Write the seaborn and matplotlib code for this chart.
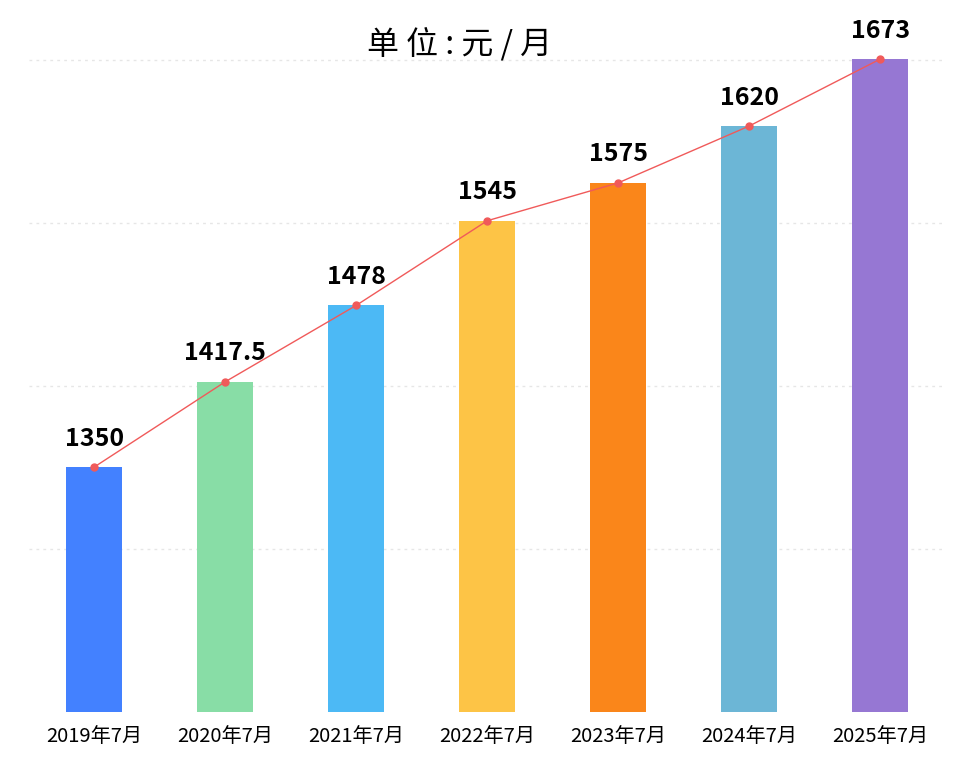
import matplotlib.pyplot as plt
import seaborn as sns
import pandas as pd

months = ["2019年7月", "2020年7月", "2021年7月", "2022年7月", "2023年7月", "2024年7月", "2025年7月"]
values = [1350, 1417.5, 1478, 1545, 1575, 1620, 1673]
labels = ["1350", "1417.5", "1478", "1545", "1575", "1620", "1673"]
colors = ["#4381FF", "#88DDA6", "#4CB9F5", "#FDC446", "#FA861A", "#6CB6D6", "#9677D3"]

plt.rcParams["font.family"] = "Noto Sans CJK SC"
df = pd.DataFrame({"month": months, "value": values})

fig = plt.figure(figsize=(9.6, 7.83), dpi=100)
ax = fig.add_axes([0.03, 0.0907, 0.955, 0.8838])
sns.barplot(data=df, x="month", y="value", hue="month", palette=colors,
            width=0.43, saturation=1, legend=False, ax=ax)
ax.plot(range(len(values)), values, color="#F05A5A", lw=1, marker="o", ms=5)
for i, (v, t) in enumerate(zip(values, labels)):
    ax.text(i, v + 13, t, ha="center", va="bottom", fontsize=18, fontweight="bold")

ax.set_ylim(1156, 1704)
ax.set_xlim(-0.5, 6.5)
ax.set_yticks([1285, 1414, 1543, 1672])
ax.yaxis.grid(True, ls=(0, (2, 3)), color="#E6E6E6", lw=1)
ax.set_axisbelow(True)
ax.tick_params(axis="y", left=False, labelleft=False)
ax.tick_params(axis="x", length=0, labelsize=14.5, pad=10)
ax.set_xlabel("")
ax.set_ylabel("")
for s in ax.spines.values():
    s.set_visible(False)
ax.text(0.47, 0.965, "单 位 : 元 / 月", transform=ax.transAxes, ha="center", va="center", fontsize=23)
fig.savefig("out.png", dpi=100)
